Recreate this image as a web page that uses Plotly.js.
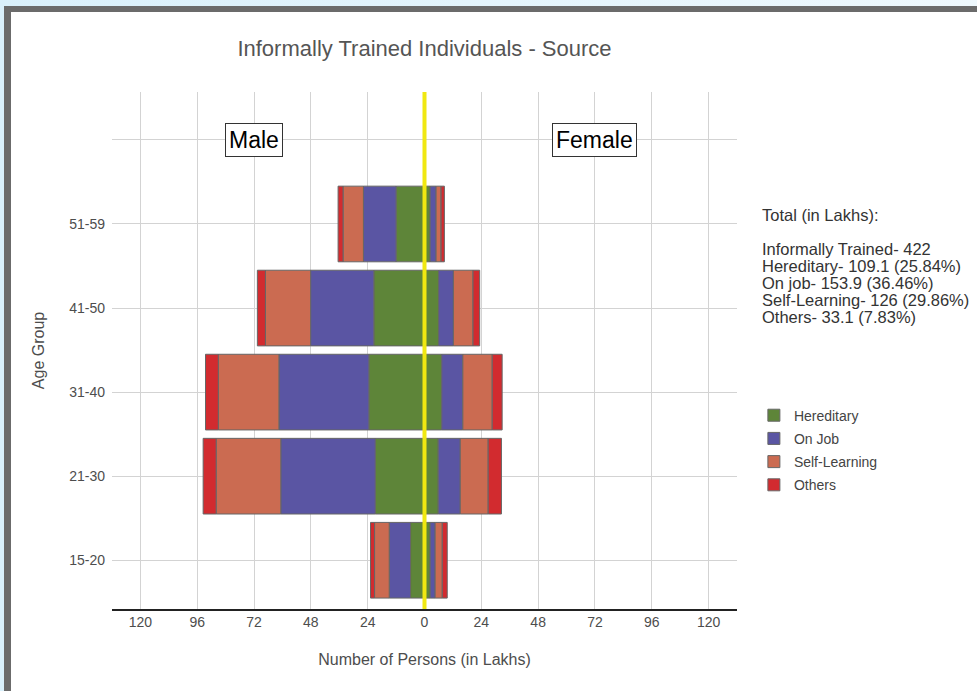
<!DOCTYPE html>
<html>
<head>
<meta charset="utf-8">
<script src="https://cdn.plot.ly/plotly-3.0.1.min.js"></script>
<style>
  html, body { margin: 0; padding: 0; width: 977px; height: 691px; overflow: hidden;
    background: linear-gradient(90deg, #d9f0fb, #eef8fd); }
  #frame { position: absolute; left: 4px; top: 6px; width: 966px; height: 679px;
    border-left: 7px solid #6b6b6b; border-top: 6px solid #6b6b6b; background: #fff; }
  #chart { width: 966px; height: 679px; }
</style>
</head>
<body>
<div id="frame"><div id="chart"></div></div>
<script>
// ---- data (in Lakhs) ----
const ageGroups = ['15-20', '21-30', '31-40', '41-50', '51-59'];
const sources = ['Hereditary', 'On Job', 'Self-Learning', 'Others'];

const maleHereditary   = [5.9, 20.8, 23.5, 21.4, 12.0];
const maleOnJob        = [9.0, 39.9, 38.0, 26.7, 13.8];
const maleSelfLearning = [6.2, 27.3, 25.6, 19.1, 8.6];
const maleOthers       = [1.7, 5.5, 5.4, 3.4, 2.1];

const femaleHereditary   = [2.4, 5.8, 7.3, 6.0, 2.4];
const femaleOnJob        = [2.1, 9.3, 8.9, 6.2, 2.5];
const femaleSelfLearning = [3.0, 11.8, 12.4, 8.3, 2.1];
const femaleOthers       = [2.1, 5.6, 4.2, 2.8, 1.4];

const xTickVals = [-120, -96, -72, -48, -24, 0, 24, 48, 72, 96, 120];
const xTickText = ['120', '96', '72', '48', '24', '0', '24', '48', '72', '96', '120'];

const totalLines = [
  'Total (in Lakhs):',
  '',
  'Informally Trained- 422',
  'Hereditary- 109.1 (25.84%)',
  'On job- 153.9 (36.46%)',
  'Self-Learning- 126 (29.86%)',
  'Others- 33.1 (7.83%)'
];

const colors = ['#5E8539', '#5A55A3', '#CB6B51', '#D22B2F'];
const maleData = [maleHereditary, maleOnJob, maleSelfLearning, maleOthers];
const femaleData = [femaleHereditary, femaleOnJob, femaleSelfLearning, femaleOthers];
const FONT = 'Liberation Sans, Arial, sans-serif';

const topCat = ' ';
const traces = [];
sources.forEach((s, i) => {
  traces.push({
    type: 'bar', orientation: 'h', name: s, legendgroup: s, showlegend: true,
    y: ageGroups, x: femaleData[i],
    marker: { color: colors[i], line: { color: '#666666', width: 1 } },
    hovertemplate: s + ' (Female): %{x}<extra></extra>'
  });
  traces.push({
    type: 'bar', orientation: 'h', name: s, legendgroup: s, showlegend: false,
    y: ageGroups, x: maleData[i].map(v => -v),
    marker: { color: colors[i], line: { color: '#666666', width: 1 } },
    customdata: maleData[i],
    hovertemplate: s + ' (Male): %{customdata}<extra></extra>'
  });
});
// invisible point to register the empty top category row
traces.push({
  type: 'scatter', mode: 'markers', x: [0], y: [topCat], showlegend: false,
  marker: { opacity: 0 }, hoverinfo: 'skip'
});

const annotations = [
  { x: -72, y: topCat, xref: 'x', yref: 'y', text: 'Male', showarrow: false,
    font: { size: 23, color: '#000', family: FONT },
    bgcolor: '#fff', bordercolor: '#333', borderwidth: 1, borderpad: 3 },
  { x: 72, y: topCat, xref: 'x', yref: 'y', text: 'Female', showarrow: false,
    font: { size: 23, color: '#000', family: FONT },
    bgcolor: '#fff', bordercolor: '#333', borderwidth: 1, borderpad: 3 }
];
const plotTop = 92, plotH = 517;
totalLines.forEach((t, k) => {
  if (!t) return;
  annotations.push({
    xref: 'paper', yref: 'paper', x: 1.037, y: 1 - (215 + k * 17 - plotTop) / plotH,
    xanchor: 'left', yanchor: 'middle', showarrow: false, align: 'left', text: t,
    font: { size: 16.5, color: '#333', family: FONT }
  });
});

const layout = {
  width: 966, height: 679,
  margin: { l: 101, r: 240, t: 80, b: 82 },
  paper_bgcolor: '#fff', plot_bgcolor: '#fff',
  font: { family: FONT, color: '#4d4d4d', size: 14 },
  title: { text: 'Informally Trained Individuals - Source', x: 0.5, xref: 'paper',
           y: 0.947, yref: 'container', yanchor: 'middle',
           font: { size: 22, color: '#555' } },
  barmode: 'relative', bargap: 0.1,
  xaxis: {
    range: [-132, 132], tickvals: xTickVals, ticktext: xTickText,
    showgrid: true, gridcolor: '#d3d3d3', gridwidth: 1, zeroline: false,
    showline: true, linecolor: '#222', linewidth: 1.5, ticks: '',
    tickfont: { size: 14, color: '#4d4d4d' },
    title: { text: 'Number of Persons (in Lakhs)', font: { size: 16, color: '#4d4d4d' }, standoff: 24 }
  },
  yaxis: {
    type: 'category', categoryorder: 'array', categoryarray: ageGroups.concat([topCat]),
    range: [-0.58, 5.57], showgrid: true, gridcolor: '#d3d3d3', gridwidth: 1,
    zeroline: false, showline: false, ticks: '', ticklabelstandoff: 6,
    tickfont: { size: 14, color: '#4d4d4d' },
    title: { text: 'Age Group', font: { size: 16, color: '#4d4d4d' }, standoff: 20 }
  },
  legend: { x: 1.027, xanchor: 'left', y: 0.405, yanchor: 'top', traceorder: 'grouped',
            tracegroupgap: 2,
            font: { size: 14, color: '#444' }, bgcolor: 'rgba(0,0,0,0)' },
  shapes: [
    { type: 'line', xref: 'x', yref: 'paper', x0: 0, x1: 0, y0: 0, y1: 1,
      line: { color: '#F0E811', width: 4 }, layer: 'above' }
  ],
  annotations: annotations
};

Plotly.newPlot('chart', traces, layout, { displayModeBar: false, staticPlot: true });
</script>
</body>
</html>
